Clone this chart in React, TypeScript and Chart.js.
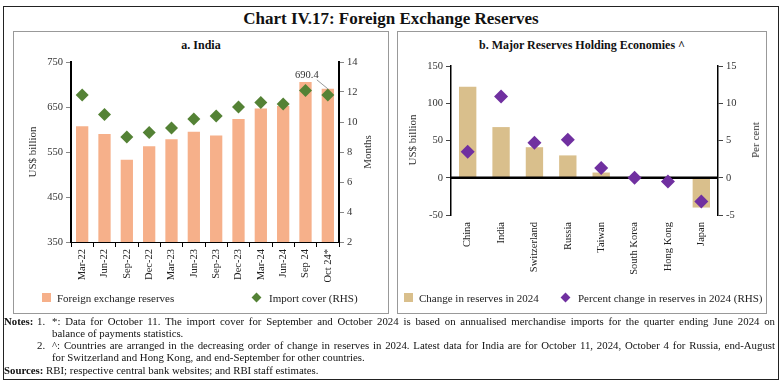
import React, { useEffect, useRef } from 'react';
import { Chart, registerables } from 'chart.js';
Chart.register(...registerables);

const indiaLabels = ['Mar-22', 'Jun-22', 'Sep-22', 'Dec-22', 'Mar-23', 'Jun-23', 'Sep-23', 'Dec-23', 'Mar-24', 'Jun-24', 'Sep 24', 'Oct 24*'];
const reserves = [607.3, 590.0, 532.7, 562.9, 578.4, 595.1, 586.9, 623.2, 646.4, 652.0, 705.8, 690.4];
const importCover = [11.8, 10.5, 9.0, 9.3, 9.6, 10.2, 10.4, 11.0, 11.3, 11.2, 12.1, 11.8];

const economies = ['China', 'India', 'Switzerland', 'Russia', 'Taiwan', 'South Korea', 'Hong Kong', 'Japan'];
const reserveChange = [122, 68, 41, 30, 7, 0.3, -0.4, -40];
const percentChange = [3.5, 10.9, 4.7, 5.1, 1.3, 0.0, -0.5, -3.2];

const leftTicks = { min: 350, max: 750, step: 100 };
const rightTicks = { min: 2, max: 14, step: 2 };
const bLeftTicks = { min: -50, max: 150, step: 50 };
const bRightTicks = { min: -5, max: 15, step: 5 };

const SERIF = "'Liberation Serif', 'DejaVu Serif', serif";
const SALMON = '#F6B08A';
const GREEN = '#548235';
const TAN = '#D9BF8C';
const PURPLE = '#7030A0';

const tickFont = { family: SERIF, size: 10.5 };

function IndiaChart() {
  const ref = useRef<HTMLCanvasElement | null>(null);
  useEffect(() => {
    const annot = {
      id: 'annot',
      afterDatasetsDraw(chart: any) {
        const meta = chart.getDatasetMeta(1);
        const bar = meta.data[11];
        if (!bar) return;
        const ctx = chart.ctx;
        const x = bar.x;
        const y = bar.y;
        ctx.save();
        ctx.strokeStyle = '#999';
        ctx.lineWidth = 1;
        ctx.beginPath();
        ctx.moveTo(x - 11, y - 9);
        ctx.lineTo(x, y);
        ctx.stroke();
        ctx.fillStyle = '#333';
        ctx.font = `10.5px ${SERIF}`;
        ctx.textAlign = 'center';
        ctx.textBaseline = 'middle';
        ctx.fillText(String(reserves[11]), x - 21, y - 14);
        ctx.restore();
      },
    };
    const chart = new Chart(ref.current as HTMLCanvasElement, {
      type: 'bar',
      data: {
        labels: indiaLabels,
        datasets: [
          {
            type: 'line',
            label: 'Import cover (RHS)',
            data: importCover,
            yAxisID: 'y1',
            showLine: false,
            pointStyle: 'rectRot',
            pointRadius: 6.5,
            backgroundColor: GREEN,
            borderColor: GREEN,
            borderWidth: 0,
            order: 1,
          } as any,
          {
            type: 'bar',
            label: 'Foreign exchange reserves',
            data: reserves,
            yAxisID: 'y',
            backgroundColor: SALMON,
            barPercentage: 0.55,
            categoryPercentage: 1,
            order: 2,
          },
        ],
      },
      options: {
        animation: false,
        responsive: false,
        maintainAspectRatio: false,
        layout: { padding: { top: 10, left: 0, right: 0, bottom: 0 } },
        plugins: { legend: { display: false }, tooltip: { enabled: false } },
        scales: {
          x: {
            grid: { display: true, drawOnChartArea: false, drawTicks: true, tickLength: 5, color: '#000', offset: true },
            border: { display: true, color: '#000', width: 1 },
            ticks: { minRotation: 90, maxRotation: 90, color: '#222', font: tickFont, padding: 2, autoSkip: false },
            afterFit: (s: any) => { s.height = 55; },
          },
          y: {
            position: 'left',
            min: leftTicks.min,
            max: leftTicks.max,
            ticks: { stepSize: leftTicks.step, color: '#333', font: tickFont, padding: 3 },
            grid: { drawOnChartArea: false, drawTicks: true, tickLength: 5, color: '#888' },
            border: { display: true, color: '#000', width: 2 },
            afterFit: (s: any) => { s.width = 57; },
          },
          y1: {
            position: 'right',
            min: rightTicks.min,
            max: rightTicks.max,
            ticks: { stepSize: rightTicks.step, color: '#333', font: tickFont, padding: 3 },
            grid: { drawOnChartArea: false, drawTicks: true, tickLength: 5, color: '#888' },
            border: { display: true, color: '#000', width: 2 },
            afterFit: (s: any) => { s.width = 47; },
          },
        },
      } as any,
      plugins: [annot],
    });
    return () => chart.destroy();
  }, []);
  return <canvas ref={ref} width={372} height={245} style={{ position: 'absolute', left: 14, top: 52, width: 372, height: 245 }} />;
}

function EconChart() {
  const ref = useRef<HTMLCanvasElement | null>(null);
  useEffect(() => {
    const zeroLine = {
      id: 'zeroLine',
      afterDatasetDraw(chart: any, args: any) {
        if (args.index !== 1) return;
        const y = chart.scales.y.getPixelForValue(0);
        const { left, right } = chart.chartArea;
        const ctx = chart.ctx;
        ctx.save();
        ctx.strokeStyle = '#000';
        ctx.lineWidth = 2.5;
        ctx.beginPath();
        ctx.moveTo(left, y);
        ctx.lineTo(right, y);
        ctx.stroke();
        ctx.restore();
      },
    };
    const chart = new Chart(ref.current as HTMLCanvasElement, {
      type: 'bar',
      data: {
        labels: economies,
        datasets: [
          {
            type: 'line',
            label: 'Percent change in reserves in 2024 (RHS)',
            data: percentChange,
            yAxisID: 'y1',
            showLine: false,
            pointStyle: 'rectRot',
            pointRadius: 7,
            backgroundColor: PURPLE,
            borderColor: PURPLE,
            borderWidth: 0,
            order: 1,
          } as any,
          {
            type: 'bar',
            label: 'Change in reserves in 2024',
            data: reserveChange,
            yAxisID: 'y',
            backgroundColor: TAN,
            barPercentage: 0.52,
            categoryPercentage: 1,
            order: 2,
          },
        ],
      },
      options: {
        animation: false,
        responsive: false,
        maintainAspectRatio: false,
        layout: { padding: { top: 14, left: 0, right: 0, bottom: 0 } },
        plugins: { legend: { display: false }, tooltip: { enabled: false } },
        scales: {
          x: {
            grid: { display: false, drawTicks: false },
            border: { display: false },
            ticks: { minRotation: 90, maxRotation: 90, color: '#222', font: tickFont, padding: 7, autoSkip: false },
            afterFit: (s: any) => { s.height = 82; },
          },
          y: {
            position: 'left',
            min: bLeftTicks.min,
            max: bLeftTicks.max,
            ticks: { stepSize: bLeftTicks.step, color: '#333', font: tickFont, padding: 3 },
            grid: { drawOnChartArea: false, drawTicks: true, tickLength: 5, color: '#444' },
            border: { display: true, color: '#000', width: 1.5 },
            afterFit: (s: any) => { s.width = 53; },
          },
          y1: {
            position: 'right',
            min: bRightTicks.min,
            max: bRightTicks.max,
            ticks: { stepSize: bRightTicks.step, color: '#333', font: tickFont, padding: 3 },
            grid: { drawOnChartArea: false, drawTicks: true, tickLength: 5, color: '#444' },
            border: { display: true, color: '#000', width: 1.5 },
            afterFit: (s: any) => { s.width = 48; },
          },
        },
      } as any,
      plugins: [zeroLine],
    });
    return () => chart.destroy();
  }, []);
  return <canvas ref={ref} width={368} height={245} style={{ position: 'absolute', left: 398, top: 52, width: 368, height: 245 }} />;
}

const abs = (left: number, top: number, extra: any = {}) => ({ position: 'absolute' as const, left, top, ...extra });

function VTitle({ text, cx, cy }: { text: string; cx: number; cy: number }) {
  return (
    <div style={abs(cx, cy, { transform: 'translate(-50%,-50%) rotate(-90deg)', whiteSpace: 'nowrap', fontSize: 11, color: '#333', fontFamily: SERIF })}>{text}</div>
  );
}

function LegendSquare({ x, y, color }: { x: number; y: number; color: string }) {
  return <div style={abs(x, y, { width: 9, height: 9, background: color })} />;
}
function LegendDiamond({ x, y, color }: { x: number; y: number; color: string }) {
  return <div style={abs(x, y, { width: 7, height: 7, background: color, transform: 'rotate(45deg)' })} />;
}
function LegendText({ x, y, text }: { x: number; y: number; text: string }) {
  return <div style={abs(x, y, { fontSize: 11, color: '#222', fontFamily: SERIF, whiteSpace: 'nowrap', lineHeight: '12px' })}>{text}</div>;
}

export default function App() {
  const noteStyle = { fontSize: 10.8, lineHeight: '12px', fontFamily: SERIF, color: '#111' };
  const justified = { textAlign: 'justify' as const, textAlignLast: 'justify' as any };
  return (
    <div style={{ position: 'fixed', left: 0, top: 0, width: 782, height: 384, background: '#fff', fontFamily: SERIF }}>
      <div style={abs(3, 6, { width: 776, height: 374, border: '1px solid #222', boxSizing: 'border-box' })} />
      <div style={abs(0, 9, { width: 782, textAlign: 'center', fontSize: 17, lineHeight: '20px', color: '#111', fontWeight: 600 })}>Chart IV.17: Foreign Exchange Reserves</div>
      <div style={abs(13, 31, { width: 376, height: 283, border: '1px solid #999', boxSizing: 'border-box' })} />
      <div style={abs(397, 31, { width: 370, height: 283, border: '1px solid #999', boxSizing: 'border-box' })} />
      <div style={abs(13, 38, { width: 376, textAlign: 'center', fontSize: 12, fontWeight: 'bold', color: '#111' })}>a. India</div>
      <div style={abs(397, 38, { width: 370, textAlign: 'center', fontSize: 12, fontWeight: 'bold', color: '#111' })}>b. Major Reserves Holding Economies ^</div>
      <IndiaChart />
      <EconChart />
      <VTitle text="US$ billion" cx={32} cy={152} />
      <VTitle text="Months" cx={367} cy={152} />
      <VTitle text="US$ billion" cx={412} cy={140} />
      <VTitle text="Per cent" cx={755} cy={140} />
      <LegendSquare x={42} y={293} color={SALMON} />
      <LegendText x={57} y={292} text="Foreign exchange reserves" />
      <LegendDiamond x={253} y={294} color={GREEN} />
      <LegendText x={269} y={292} text="Import cover (RHS)" />
      <LegendSquare x={404} y={293} color={TAN} />
      <LegendText x={419} y={292} text="Change in reserves in 2024" />
      <LegendDiamond x={562} y={294} color={PURPLE} />
      <LegendText x={578} y={292} text="Percent change in reserves in 2024 (RHS)" />
      <div style={abs(4, 315, { width: 771, ...noteStyle })}>
        <div style={{ display: 'flex' }}>
          <span style={{ fontWeight: 'bold', width: 33, flex: 'none' }}>Notes:</span>
          <span style={{ width: 15, flex: 'none' }}>1.</span>
          <div style={{ flex: 1 }}>
            <div style={justified}>*: Data for October 11. The import cover for September and October 2024 is based on annualised merchandise imports for the quarter ending June 2024 on</div>
            <div>balance of payments statistics.</div>
          </div>
        </div>
        <div style={{ display: 'flex' }}>
          <span style={{ width: 33, flex: 'none' }}></span>
          <span style={{ width: 15, flex: 'none' }}>2.</span>
          <div style={{ flex: 1 }}>
            <div style={justified}>^: Countries are arranged in the decreasing order of change in reserves in 2024. Latest data for India are for October 11, 2024, October 4 for Russia, end-August</div>
            <div>for Switzerland and Hong Kong, and end-September for other countries.</div>
          </div>
        </div>
        <div style={{ marginTop: 1 }}>
          <span style={{ fontWeight: 'bold' }}>Sources:</span> RBI; respective central bank websites; and RBI staff estimates.
        </div>
      </div>
    </div>
  );
}
